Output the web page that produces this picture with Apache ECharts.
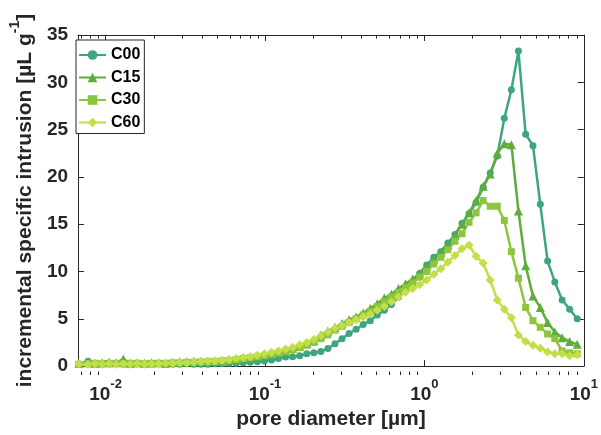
<!DOCTYPE html>
<html><head><meta charset="utf-8">
<script src="https://cdn.jsdelivr.net/npm/echarts@6/dist/echarts.min.js"></script>
<style>html,body{margin:0;padding:0;background:#fff}#c{width:601px;height:435px}</style>
</head><body><div id="c"></div>
<script>
// pore diameter [µm]
const xValues = [0.0068, 0.00776, 0.00859, 0.00952, 0.01054, 0.01167, 0.01292, 0.0143, 0.01584, 0.01754,
 0.01942, 0.0215, 0.02381, 0.02636, 0.02919, 0.03231, 0.03578, 0.03962, 0.04387, 0.04858,
 0.05378, 0.05955, 0.06594, 0.07301, 0.08084, 0.08954, 0.0992, 0.1098, 0.1216, 0.1347,
 0.1491, 0.1651, 0.1828, 0.2024, 0.2241, 0.2481, 0.2748, 0.3042, 0.3369, 0.373,
 0.413, 0.4573, 0.5063, 0.5606, 0.6207, 0.6874, 0.761, 0.8433, 0.9337, 1.0339,
 1.1447, 1.2677, 1.4036, 1.5541, 1.7212, 1.9055, 2.11, 2.3366, 2.5871, 2.865,
 3.1716, 3.5122, 3.8888, 4.318, 4.799, 5.333, 5.925, 6.58, 7.31, 8.147, 9.09];

const c00 = [0.2, 0.5, 0.25, 0.2, 0.2, 0.25, 0.2, 0.2, 0.25, 0.2,
 0.2, 0.25, 0.2, 0.2, 0.2, 0.25, 0.2, 0.2, 0.2, 0.25,
 0.25, 0.3, 0.3, 0.35, 0.4, 0.45, 0.55, 0.65, 0.8, 0.95,
 1.0, 1.1, 1.3, 1.4, 1.55, 1.85, 2.35, 2.9, 3.45, 3.9,
 4.4, 4.8, 5.4, 5.9, 6.5, 7.3, 8.1, 8.9, 9.8, 10.7,
 11.5, 12.1, 13.0, 13.9, 15.1, 16.1, 17.3, 18.9, 20.4, 22.2,
 26.2, 29.2, 33.3, 24.5, 23.3, 17.1, 11.1, 8.9, 7.0, 6.0, 5.0];

const c15 = [0.3, 0.35, 0.3, 0.35, 0.4, 0.35, 0.75, 0.3, 0.35, 0.3,
 0.35, 0.35, 0.3, 0.4, 0.45, 0.45, 0.5, 0.5, 0.55, 0.55,
 0.6, 0.65, 0.75, 0.85, 0.95, 1.05, 1.2, 1.3, 1.5, 1.7,
 1.9, 2.1, 2.4, 2.7, 3.3, 3.7, 4.1, 4.5, 4.9, 5.2,
 5.6, 6.1, 6.6, 7.2, 7.6, 8.2, 8.7, 9.2, 9.8, 10.5,
 11.3, 12.0, 12.8, 13.8, 15.0, 16.2, 17.5, 19.0, 20.3, 22.5,
 23.5, 23.4, 16.4, 10.6, 7.4, 6.2, 4.6, 3.6, 3.0, 2.6, 2.3];

const c30 = [0.2, 0.25, 0.3, 0.25, 0.3, 0.3, 0.25, 0.3, 0.3, 0.25,
 0.3, 0.3, 0.3, 0.35, 0.35, 0.4, 0.4, 0.45, 0.45, 0.5,
 0.55, 0.6, 0.7, 0.8, 0.9, 1.0, 1.1, 1.25, 1.4, 1.55,
 1.75, 1.95, 2.2, 2.5, 2.9, 3.3, 3.8, 4.2, 4.6, 5.0,
 5.4, 5.8, 6.3, 6.8, 7.3, 7.8, 8.3, 8.8, 9.4, 10.0,
 10.8, 11.5, 12.3, 13.2, 14.0, 15.2, 16.2, 17.5, 16.9, 16.9,
 15.4, 12.1, 9.3, 6.2, 4.8, 4.1, 3.4, 2.9, 1.6, 1.4, 1.3];

const c60 = [0.25, 0.2, 0.25, 0.2, 0.25, 0.2, 0.25, 0.2, 0.25, 0.2,
 0.25, 0.25, 0.3, 0.3, 0.35, 0.35, 0.4, 0.45, 0.5, 0.55,
 0.6, 0.7, 0.8, 0.9, 1.0, 1.15, 1.3, 1.45, 1.6, 1.8,
 2.0, 2.25, 2.5, 2.8, 3.2, 3.6, 4.0, 4.3, 4.6, 4.9,
 5.2, 5.5, 5.9, 6.3, 6.8, 7.3, 7.8, 8.2, 8.6, 9.1,
 9.7, 10.3, 11.0, 11.7, 12.4, 12.8, 11.6, 10.9, 9.1, 7.0,
 6.0, 5.1, 3.3, 2.6, 2.2, 1.9, 1.5, 1.3, 1.3, 1.1, 1.2];

const seriesNames = ['C00', 'C15', 'C30', 'C60'];
const seriesValues = [c00, c15, c30, c60];
const seriesColors = ['#3ea67f', '#5ead3c', '#8dc63e', '#c3df48'];
const seriesSymbols = ['circle', 'triangle', 'rect', 'diamond'];
const seriesSymbolSizes = [7, 9, 7, 9];

const xTickValues = [0.01, 0.1, 1, 10];
const xTickExps = ['-2', '-1', '0', '1'];
const xMinorTicks = [0.007, 0.008, 0.009, 0.02, 0.03, 0.04, 0.05, 0.06, 0.07, 0.08, 0.09,
 0.2, 0.3, 0.4, 0.5, 0.6, 0.7, 0.8, 0.9, 2, 3, 4, 5, 6, 7, 8, 9];
const yMin = 0, yMax = 35, yStep = 5;
const xMin = 0.00672, xMax = 10;

const FONT = "'Liberation Sans', Arial, Helvetica, sans-serif";
const AX = '#262626';

const chart = echarts.init(document.getElementById('c'), null, {renderer: 'canvas'});

const series = seriesNames.map((n, k) => ({
  name: n, type: 'line',
  data: xValues.map((x, i) => [x, seriesValues[k][i]]),
  symbol: seriesSymbols[k], symbolSize: seriesSymbolSizes[k], showSymbol: true,
  lineStyle: {width: 2.5, color: seriesColors[k]},
  itemStyle: {color: seriesColors[k]},
  emphasis: {disabled: true},
  animation: false
}));

const axisCommonX = {
  type: 'log', min: xMin, max: xMax, logBase: 10,
  axisLine: {show: true, onZero: false, lineStyle: {color: AX, width: 1}},
  axisTick: {show: true, inside: true, length: 6, lineStyle: {color: AX, width: 1}},
  splitLine: {show: false}, minorTick: {show: false}
};
const axisCommonY = {
  type: 'value', min: yMin, max: yMax, interval: yStep,
  axisLine: {show: true, onZero: false, lineStyle: {color: AX, width: 1}},
  axisTick: {show: true, inside: true, length: 6, lineStyle: {color: AX, width: 1}},
  splitLine: {show: false}
};

const option = {
  backgroundColor: '#fff',
  animation: false,
  grid: {left: 67, right: 14, top: 35, bottom: 60, containLabel: false},
  legend: {
    show: true, orient: 'vertical', left: 76, top: 40,
    itemWidth: 27, itemHeight: 12, itemGap: 6.5,
    padding: [7, 4, 3, 2],
    borderColor: AX, borderWidth: 1, backgroundColor: '#fff',
    textStyle: {fontSize: 16, fontWeight: 'bold', color: '#000', fontFamily: FONT},
    data: seriesNames
  },
  xAxis: [
    Object.assign({}, axisCommonX, {
      position: 'bottom',
      axisLabel: {
        show: true, margin: 12, showMinLabel: false,
        formatter: function (v) {
          const idx = xTickValues.findIndex(t => Math.abs(v - t) / t < 1e-6);
          return idx < 0 ? '' : '{b|10}{s|' + xTickExps[idx] + '}';
        },
        rich: {
          b: {fontSize: 19, fontWeight: 'bold', color: AX, fontFamily: FONT, lineHeight: 26, verticalAlign: 'bottom'},
          s: {fontSize: 13, fontWeight: 'bold', color: AX, fontFamily: FONT, lineHeight: 14, verticalAlign: 'top'}
        }
      },
      name: 'pore diameter [µm]', nameLocation: 'middle', nameGap: 37,
      nameTextStyle: {fontSize: 21, fontWeight: 'bold', color: AX, fontFamily: FONT}
    }),
    Object.assign({}, axisCommonX, {position: 'top', axisLabel: {show: false}})
  ],
  yAxis: [
    Object.assign({}, axisCommonY, {
      position: 'left',
      axisLabel: {show: true, margin: 10, fontSize: 19, fontWeight: 'bold', color: AX, fontFamily: FONT},
      name: '{a|incremental specific intrusion [µL g}{s|-1}{a|]}',
      nameLocation: 'middle', nameGap: 33, nameRotate: 90,
      nameTextStyle: {
        rich: {
          a: {fontSize: 21, fontWeight: 'bold', color: AX, fontFamily: FONT, lineHeight: 28, verticalAlign: 'bottom'},
          s: {fontSize: 14, fontWeight: 'bold', color: AX, fontFamily: FONT, lineHeight: 15, verticalAlign: 'top'}
        }
      }
    }),
    Object.assign({}, axisCommonY, {position: 'right', axisLabel: {show: false}})
  ],
  series: series
};
chart.setOption(option);

// minor ticks of the log axis (bottom and top frame)
const gTop = 35, gBottom = 435 - 60;
const minorEls = [];
xMinorTicks.forEach(v => {
  const px = Math.round(chart.convertToPixel({xAxisIndex: 0}, v)) + 0.5;
  minorEls.push({type: 'line', silent: true, z: 100,
    shape: {x1: px, y1: gBottom, x2: px, y2: gBottom - 3.5}, style: {stroke: AX, lineWidth: 1}});
  minorEls.push({type: 'line', silent: true, z: 100,
    shape: {x1: px, y1: gTop, x2: px, y2: gTop + 3.5}, style: {stroke: AX, lineWidth: 1}});
});
chart.setOption({graphic: minorEls});
</script>
</body></html>
